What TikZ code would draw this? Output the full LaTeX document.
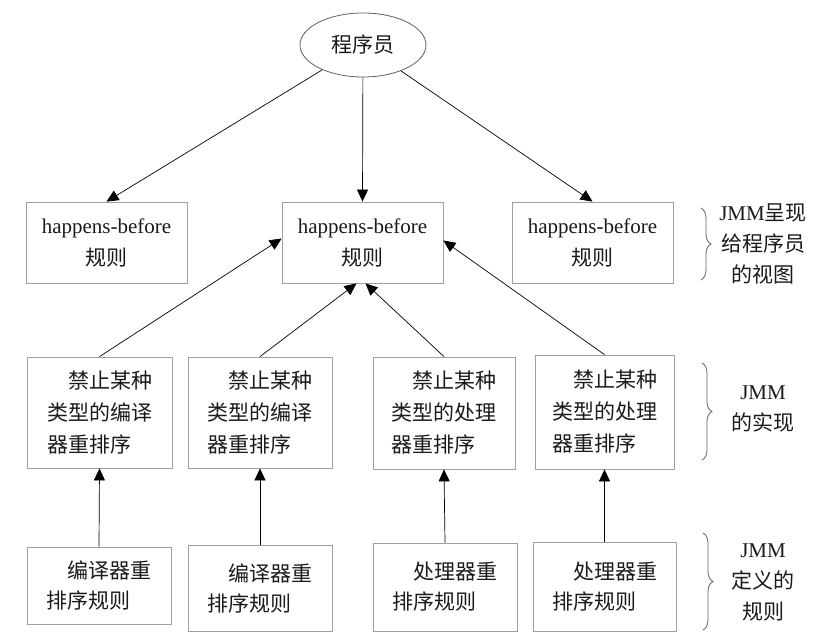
\documentclass[tikz,border=0pt]{standalone}
\usepackage{fontspec}
\setmainfont{Liberation Serif}
\newfontfamily\cjk{Noto Sans CJK SC}
\usetikzlibrary{arrows.meta,decorations.pathreplacing,shapes.geometric,calc}
\newcommand{\zh}[1]{{\cjk #1}}
\definecolor{boxgray}{HTML}{A0A0A0}
\definecolor{bracegray}{HTML}{606060}
\definecolor{txt}{HTML}{1A1A1A}
\begin{document}
\begin{tikzpicture}[x=1pt,y=-1pt,
  box/.style={draw=boxgray, line width=0.8pt, inner sep=0pt, align=left, text=txt,
    font=\fontsize{21pt}{32pt}\selectfont},
  box3/.style={box, font=\fontsize{21pt}{30pt}\selectfont},
  hbox/.style={box, align=center, minimum width=161pt, minimum height=81pt},
  lbl/.style={align=center, text=txt, inner sep=0pt, font=\fontsize{21pt}{31pt}\selectfont},
  arr/.style={-{Triangle[length=12pt,width=11pt]}, line width=0.7pt, black},
  ln/.style={line width=0.7pt, black},
  bracestyle/.style={decorate, decoration={brace, amplitude=10pt}, draw=bracegray, line width=0.8pt}]
\useasboundingbox (0,0) rectangle (830,644);

% top ellipse
\node[ellipse, draw=bracegray, line width=0.8pt, minimum width=126pt, minimum height=64pt,
  inner sep=0pt, text=txt, font=\fontsize{21pt}{25pt}\selectfont] (prog) at (363,45) {\zh{程序员}};

% row 1
\node[hbox] (hb1) at (106.5,242.5) {happens-before\\\zh{规则}};
\node[hbox] (hb2) at (362.5,242.5) {happens-before\\\zh{规则}};
\node[hbox] (hb3) at (592.5,242.5) {happens-before\\\zh{规则}};

% row 2
\node[box, minimum width=145pt, minimum height=111pt] (ra) at (99.5,412.5)
  {\hspace*{1em}\zh{禁止某种}\\\zh{类型的编译}\\\zh{器重排序}};
\node[box, minimum width=144pt, minimum height=111pt] (rb) at (260,412.5)
  {\hspace*{1em}\zh{禁止某种}\\\zh{类型的编译}\\\zh{器重排序}};
\node[box, minimum width=142pt, minimum height=112pt] (rc) at (444,413)
  {\hspace*{1em}\zh{禁止某种}\\\zh{类型的处理}\\\zh{器重排序}};
\node[box, minimum width=139pt, minimum height=114pt] (rd) at (604.5,412)
  {\hspace*{1em}\zh{禁止某种}\\\zh{类型的处理}\\\zh{器重排序}};

% row 3
\node[box3, minimum width=144pt, minimum height=77pt] (re) at (99,585.5)
  {\hspace*{1em}\zh{编译器重}\\\zh{排序规则}};
\node[box3, minimum width=144pt, minimum height=86pt] (rf) at (260,588)
  {\hspace*{1em}\zh{编译器重}\\\zh{排序规则}};
\node[box3, minimum width=144pt, minimum height=88pt] (rg) at (445,587)
  {\hspace*{1em}\zh{处理器重}\\\zh{排序规则}};
\node[box3, minimum width=143pt, minimum height=89pt] (rh) at (604.5,586.5)
  {\hspace*{1em}\zh{处理器重}\\\zh{排序规则}};

% arrows from programmer
\draw[arr] (prog) -- (hb1.north);
\draw[arr] (prog) -- (hb2.north);
\draw[arr] (prog) -- (hb3.north);

% arrows row 2 -> hb2
\draw[arr] (ra.north) -- ([yshift=4pt]hb2.west);
\draw[arr] (rb.north) -- ([xshift=-6pt]hb2.south);
\draw[arr] (rc.north) -- ([xshift=3pt]hb2.south);
\draw[arr] (rd.north) -- ([yshift=2pt]hb2.east);

% arrows row 3 -> row 2
\draw[arr] (re.north) -- (ra.south);
\draw[arr] (rf.north) -- (rb.south);
\draw[arr] (rg.north) -- (rc.south);
\draw[arr] (rh.north) -- (rd.south);

% braces
\draw[bracestyle] (701,208) -- (701,280);
\draw[bracestyle] (702,363) -- (702,460);
\draw[bracestyle] (703,533) -- (703,630);

\node[lbl] (l1) at (763,244) {JMM\zh{呈现}\\\zh{给程序员}\\\zh{的视图}};
\node[lbl] (l2) at (763,409) {JMM\\\zh{的实现}};
\node[lbl] (l3) at (763,582) {JMM\\\zh{定义的}\\\zh{规则}};
\end{tikzpicture}
\end{document}
